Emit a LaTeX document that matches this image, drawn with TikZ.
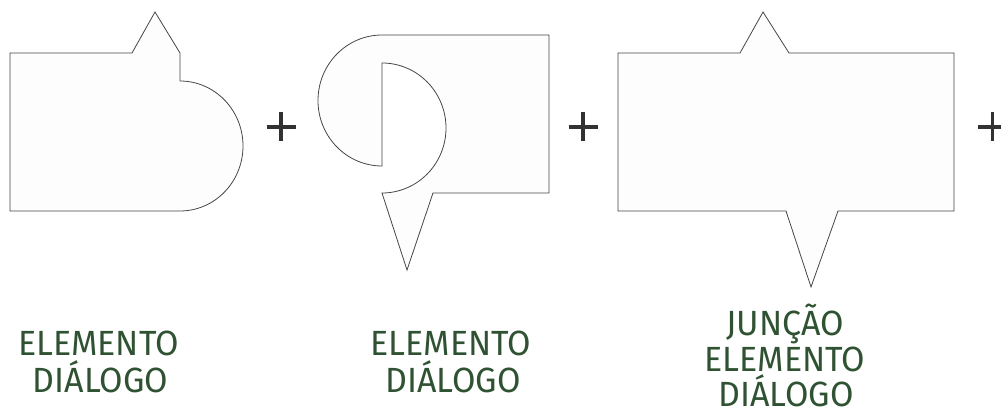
\documentclass[tikz,border=0pt]{standalone}
\usepackage{fontspec}
\setmainfont{Fira Sans}
\usepackage{graphicx}
\definecolor{txtgreen}{RGB}{47,82,50}
\definecolor{outl}{RGB}{70,70,70}
\definecolor{plusc}{RGB}{50,50,50}
\definecolor{fillc}{RGB}{253,253,253}
\newcommand{\lbl}[1]{\scalebox{0.97}[1]{#1}}
\begin{document}
\begin{tikzpicture}[x=1pt,y=-1pt,
  bubble/.style={draw=outl,fill=fillc,line width=0.8pt,line join=miter},
  plusbar/.style={draw=plusc,line width=3.6pt},
  caption/.style={text=txtgreen,font=\fontsize{35}{36.5}\selectfont,anchor=base,inner sep=0pt}]
\useasboundingbox (0,0) rectangle (1001,414);
% shape 1
\draw[bubble] (10,53) -- (132,53) -- (155,12) -- (180,53) -- (180,81)
  arc[start angle=-90,end angle=90,x radius=63,y radius=65] -- (10,211) -- cycle;
% shape 2
\draw[bubble] (382,35) -- (549,35) -- (549,193) -- (433,193) -- (407,270) -- (382,193)
  arc[start angle=90,end angle=-90,x radius=64,y radius=65] -- (382,166)
  arc[start angle=90,end angle=270,x radius=64,y radius=65.5] -- cycle;
% shape 3
\draw[bubble] (618,53) -- (740,53) -- (763,12) -- (789,53) -- (954,53) -- (954,211)
  -- (838,211) -- (811,287) -- (786,211) -- (618,211) -- cycle;
% plus signs
\foreach \cx in {281,583,992.5}{
  \draw[plusbar] (\cx-14.5,127) -- (\cx+14.5,127);
  \draw[plusbar] (\cx,112.5) -- (\cx,141.5);
}
% captions
\node[caption] (c1a) at (98.5,355) {\lbl{ELEMENTO}};
\node[caption] (c1b) at (100.5,392) {\lbl{DIÁLOGO}};
\node[caption] (c2a) at (451,355) {\lbl{ELEMENTO}};
\node[caption] (c2b) at (453,392) {\lbl{DIÁLOGO}};
\node[caption] (c3a) at (785,335.5) {\lbl{JUNÇÃO}};
\node[caption] (c3b) at (785,371) {\lbl{ELEMENTO}};
\node[caption] (c3c) at (786,406.5) {\lbl{DIÁLOGO}};
\end{tikzpicture}
\end{document}
